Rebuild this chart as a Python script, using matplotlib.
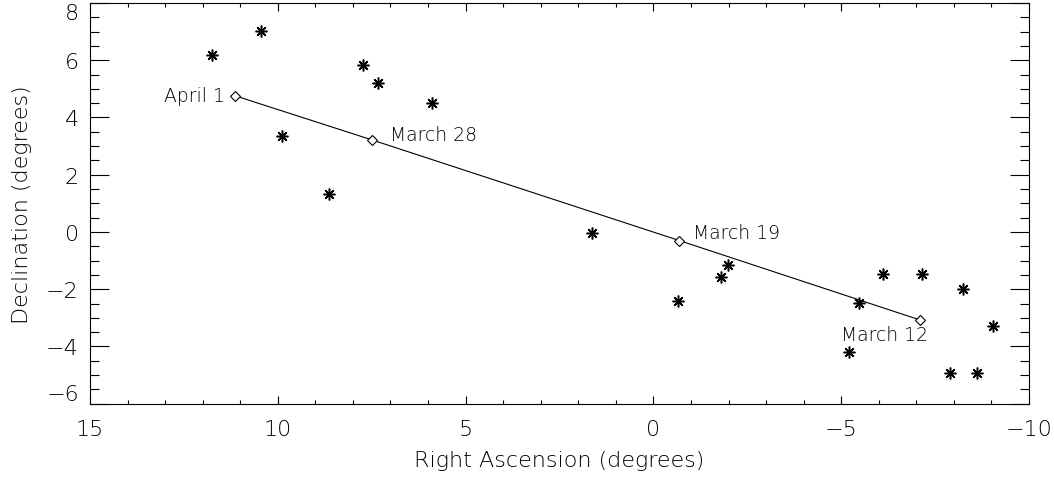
import matplotlib
matplotlib.use("Agg")
import matplotlib.pyplot as plt
from matplotlib.ticker import MultipleLocator

# Star positions (asterisks)
star_ra = [11.76, 10.45, 9.90, 8.65, 7.74, 7.32, 5.89, 1.64, -0.65, -1.98, -1.79,
           -5.47, -6.10, -7.14, -8.23, -9.05, -5.21, -7.91, -8.61]
star_dec = [6.20, 7.01, 3.36, 1.33, 5.83, 5.19, 4.51, -0.04, -2.42, -1.14, -1.59,
            -2.48, -1.48, -1.47, -1.99, -3.28, -4.21, -4.93, -4.93]

# Track (diamonds)
track_ra = [11.14, 7.50, -0.69, -7.11]
track_dec = [4.76, 3.22, -0.30, -3.08]
track_labels = ["April 1", "March 28", "March 19", "March 12"]

plt.rcParams['font.family'] = ['DejaVu Sans']
plt.rcParams['font.weight'] = 'light'
TXT = '#000000'

fig = plt.figure(figsize=(10.54, 4.81), dpi=100)
ax = fig.add_axes([90/1054, 1 - 404.7/481, (1029-90)/1054, (404.7-4)/481])

ax.plot(track_ra, track_dec, color='black', lw=0.8, marker='D', ms=5.5,
        mfc='white', mec='black', mew=0.8, zorder=3)
ax.plot(star_ra, star_dec, ls='none', marker=(8, 2, 0), ms=8.5, mec='black',
        mew=1.1, color='black', zorder=4)

# label offsets in points (kept as styling)
offsets = [(-7, 0, 'right', 'center'), (13, 4, 'left', 'center'),
           (10, 6, 'left', 'center'), (-57, -10, 'left', 'center')]
for x, y, t, (dx, dy, ha, va) in zip(track_ra, track_dec, track_labels, offsets):
    ax.annotate(t, (x, y), xytext=(dx, dy), textcoords='offset points',
                ha=ha, va=va, fontsize=13.5, color=TXT, fontweight='light')

ax.set_xlim(15, -10)
ax.set_ylim(-6, 8)
ax.xaxis.set_major_locator(MultipleLocator(5))
ax.xaxis.set_minor_locator(MultipleLocator(1))
ax.yaxis.set_major_locator(MultipleLocator(2))
ax.yaxis.set_minor_locator(MultipleLocator(0.5))

ax.tick_params(axis='x', which='major', direction='in', length=6, width=0.8,
               top=True, bottom=True, labelsize=16, pad=11, colors=TXT)
ax.tick_params(axis='x', which='minor', direction='in', length=3, width=0.8,
               top=True, bottom=True)
ax.tick_params(axis='y', which='major', direction='in', length=13.5, width=0.8,
               left=True, right=True, labelsize=16, pad=8, colors=TXT)
ax.tick_params(axis='y', which='minor', direction='in', length=6.5, width=0.8,
               left=True, right=True)
for s in ax.spines.values():
    s.set_linewidth(0.8)

ax.set_xlabel("Right Ascension (degrees)", fontsize=16, color=TXT, labelpad=8,
              fontweight='light')
ax.set_ylabel("Declination (degrees)", fontsize=16, color=TXT, labelpad=10,
              fontweight='light')

fig.canvas.draw()
for lab in ax.get_yticklabels():
    txt = lab.get_text().replace('\u2212', '-').strip()
    if txt == '8':
        lab.set_va('top')
    elif txt == '-6':
        lab.set_va('bottom')

fig.savefig("out.png", dpi=100)
